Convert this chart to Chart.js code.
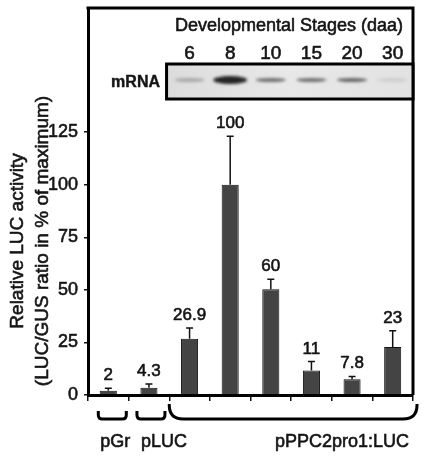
<!doctype html>
<html>
<head>
<title>LUC activity</title>
<script src="https://cdn.jsdelivr.net/npm/chart.js@4"></script>
<style>
body { margin: 0; background: #fff; }
#holder { width: 430px; height: 458px; }
</style>
</head>
<body>
<div id="holder"><canvas id="chart-area"></canvas></div>
<script>
// data
var categories = ['pGr', 'pLUC', '6', '8', '10', '15', '20', '30'];
var activity = [2, 3.4, 26.7, 100, 50.3, 11.6, 7.5, 22.8];
var errorUp = [1.2, 1.8, 5.2, 23, 4.7, 4.3, 1.3, 7.8];
var valueLabels = ['2', '4.3', '26.9', '100', '60', '11', '7.8', '23'];
var yTicks = [0, 25, 50, 75, 100, 125];
// mRNA band strength for stages 6..30 (0 = none, 1 = strongest)
var bandStrength = [0.3, 1, 0.6, 0.6, 0.65, 0.1];

var FONT = '"Liberation Sans", Arial, sans-serif';
var INK = '#151515';

// regular face with a thin outline, to look like the slightly heavy scan text
function heavyText(ctx, str, x, y) {
	ctx.fillText(str, x, y);
	ctx.strokeText(str, x, y);
}

var figurePlugin = {
	id: 'figure',
	afterDatasetsDraw: function(chart) {
		var ctx = chart.ctx;
		var y = chart.scales.y;
		var meta = chart.getDatasetMeta(0);
		ctx.save();
		meta.data.forEach(function(bar, i) {
			var top = y.getPixelForValue(activity[i] + errorUp[i]);
			ctx.strokeStyle = '#111';
			ctx.lineWidth = 1.5;
			ctx.beginPath();
			ctx.moveTo(bar.x, bar.y);
			ctx.lineTo(bar.x, top);
			ctx.moveTo(bar.x - 3.5, top);
			ctx.lineTo(bar.x + 3.5, top);
			ctx.stroke();
			ctx.font = '17px ' + FONT;
			ctx.textAlign = 'center';
			ctx.textBaseline = 'alphabetic';
			ctx.fillStyle = INK;
			ctx.strokeStyle = INK;
			ctx.lineWidth = 0.6;
			heavyText(ctx, valueLabels[i], bar.x, top - 8);
		});
		ctx.restore();
	},
	afterDraw: function(chart) {
		var ctx = chart.ctx;
		var area = chart.chartArea;
		var x = chart.scales.x;
		ctx.save();
		ctx.strokeStyle = '#000';

		// frame top + right
		ctx.lineWidth = 3;
		ctx.beginPath();
		ctx.moveTo(area.left - 1.5, area.top);
		ctx.lineTo(area.right, area.top);
		ctx.lineTo(area.right, area.bottom);
		ctx.stroke();

		// header
		ctx.fillStyle = INK;
		ctx.strokeStyle = INK;
		ctx.lineWidth = 0.6;
		ctx.font = '18px ' + FONT;
		ctx.textAlign = 'center';
		heavyText(ctx, 'Developmental Stages (daa)', 289, 31);
		ctx.font = '19px ' + FONT;
		for (var i = 2; i < categories.length; i++) {
			heavyText(ctx, categories[i], x.getPixelForValue(i), 59);
		}

		// blot
		var bx0 = x.getPixelForValue(2) - 23, bx1 = area.right, by0 = 64, by1 = 99;
		var g = ctx.createLinearGradient(bx0, 0, bx1, 0);
		g.addColorStop(0, '#dcdcdc');
		g.addColorStop(0.5, '#e8e8e8');
		g.addColorStop(1, '#e2e2e2');
		ctx.fillStyle = g;
		ctx.fillRect(bx0, by0, bx1 - bx0, by1 - by0);
		bandStrength.forEach(function(s, k) {
			if (s <= 0) return;
			var cx = x.getPixelForValue(k + 2);
			var h = s > 0.9 ? 8 : 4;
			var w = s > 0.9 ? 17 : 15;
			var shade = Math.round(225 - 190 * s);
			ctx.save();
			ctx.filter = 'blur(1.5px)';
			ctx.fillStyle = 'rgb(' + shade + ',' + shade + ',' + shade + ')';
			ctx.beginPath();
			ctx.ellipse(cx, 80, w, h / 2, 0, 0, Math.PI * 2);
			ctx.fill();
			ctx.restore();
		});
		ctx.strokeStyle = '#000';
		ctx.lineWidth = 3;
		ctx.strokeRect(bx0, by0, bx1 - bx0, by1 - by0);
		ctx.fillStyle = INK;
		ctx.strokeStyle = INK;
		ctx.lineWidth = 0.4;
		ctx.font = 'bold 16px ' + FONT;
		ctx.textAlign = 'right';
		heavyText(ctx, 'mRNA', 160, 87);

		// brackets under the axis
		function bracket(x0, x1, top, bottom, r) {
			ctx.beginPath();
			ctx.moveTo(x0, top);
			ctx.lineTo(x0, bottom - r);
			ctx.quadraticCurveTo(x0, bottom, x0 + r, bottom);
			ctx.lineTo(x1 - r, bottom);
			ctx.quadraticCurveTo(x1, bottom, x1, bottom - r);
			ctx.lineTo(x1, top);
			ctx.stroke();
		}
		ctx.strokeStyle = '#000';
		ctx.lineWidth = 3;
		var c0 = x.getPixelForValue(0), c1 = x.getPixelForValue(1);
		bracket(c0 - 10, c0 + 18, 411, 419, 4);
		bracket(c1 - 12, c1 + 16, 411, 419, 4);
		bracket((c1 + x.getPixelForValue(2)) / 2, area.right + 4, 404, 419, 14);
		ctx.strokeStyle = INK;
		ctx.lineWidth = 0.6;
		ctx.font = '18px ' + FONT;
		ctx.textAlign = 'center';
		heavyText(ctx, categories[0], c0 + 7, 447);
		heavyText(ctx, categories[1], c1 + 15, 447);
		heavyText(ctx, 'pPPC2pro1:LUC', 342, 447);

		// y title, two lines
		ctx.font = '19px ' + FONT;
		ctx.translate(0, 241);
		ctx.rotate(-Math.PI / 2);
		ctx.textBaseline = 'middle';
		heavyText(ctx, 'Relative LUC activity', 0, 18);
		heavyText(ctx, '(LUC/GUS ratio in % of maximum)', 0, 43);
		ctx.restore();
	}
};

var config = {
	type: 'bar',
	data: {
		labels: categories,
		datasets: [{
			data: activity,
			backgroundColor: '#444444',
			borderColor: '#111',
			borderWidth: 1,
			barPercentage: 0.42,
			categoryPercentage: 1
		}]
	},
	options: {
		responsive: true,
		maintainAspectRatio: false,
		animation: false,
		layout: { padding: { top: 8, right: 17, left: 0, bottom: 0 } },
		plugins: { legend: { display: false }, tooltip: { enabled: false } },
		scales: {
			x: {
				offset: true,
				grid: { offset: true, drawOnChartArea: false, color: '#111', lineWidth: 1.5, tickLength: 6 },
				border: { color: '#000', width: 3 },
				ticks: { display: false },
				afterFit: function(scale) {
					scale.height = 63;
					scale.paddingLeft = 0;
					scale.paddingRight = 0;
				}
			},
			y: {
				min: 0,
				max: 184,
				afterBuildTicks: function(scale) {
					scale.ticks = yTicks.map(function(v) { return { value: v }; });
				},
				grid: { drawOnChartArea: false, color: '#111', lineWidth: 1.5, tickLength: 4 },
				border: { color: '#000', width: 3 },
				ticks: {
					color: INK,
					padding: 6,
					textStrokeColor: INK,
					textStrokeWidth: 0.6,
					font: { family: FONT, size: 18 }
				},
				afterFit: function(scale) {
					scale.width = 88;
					scale.paddingTop = 0;
					scale.paddingBottom = 0;
				}
			}
		}
	},
	plugins: [figurePlugin]
};

window.onload = function() {
	var ctx = document.getElementById('chart-area').getContext('2d');
	window.myBar = new Chart(ctx, config);
};
</script>
</body>
</html>
